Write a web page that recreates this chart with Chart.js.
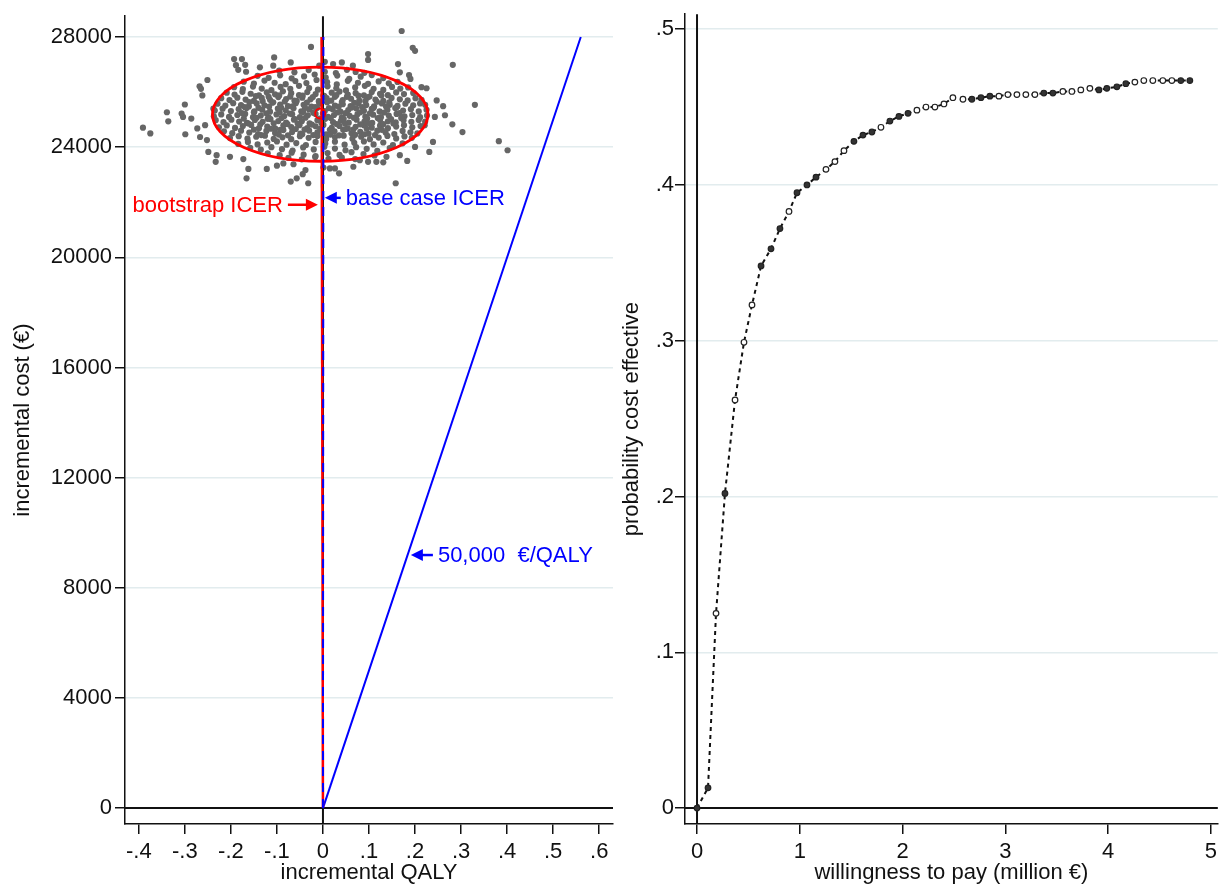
<!DOCTYPE html>
<html>
<head>
<meta charset="utf-8">
<script src="https://cdn.jsdelivr.net/npm/chart.js@4.4.1/dist/chart.umd.min.js"></script>
<style>
  html, body { margin: 0; padding: 0; background: #fff; }
  #plane { position: absolute; left: 0; top: 0; }
  #ceac { position: absolute; left: 620px; top: 0; }
</style>
</head>
<body>
<canvas id="plane" width="620" height="884"></canvas>
<canvas id="ceac" width="603" height="884"></canvas>
<script>
// ---- cost-effectiveness plane ----
const qalyTicks = [-0.4, -0.3, -0.2, -0.1, 0, 0.1, 0.2, 0.3, 0.4, 0.5, 0.6];
const qalyTickLabels = ['-.4', '-.3', '-.2', '-.1', '0', '.1', '.2', '.3', '.4', '.5', '.6'];
const costTicks = [0, 4000, 8000, 12000, 16000, 20000, 24000, 28000];

// bootstrap replicates [incremental QALY, incremental cost]
const bootCloud = [
  [-0.095,26780],[-0.062,26720],[-0.031,26800],[0.004,26740],[0.028,26690],[0.052,26810],[0.071,26730],[0.090,26700],
  [-0.142,26590],[-0.118,26520],[-0.093,26610],[-0.068,26500],[-0.041,26570],[-0.018,26640],[0.006,26530],[0.031,26600],[0.057,26480],[0.082,26560],[0.106,26620],[0.131,26510],
  [-0.172,26380],[-0.150,26310],[-0.127,26420],[-0.105,26340],[-0.081,26290],[-0.060,26400],[-0.036,26330],[-0.014,26440],[0.009,26360],[0.030,26280],[0.054,26410],[0.076,26340],[0.098,26300],[0.121,26390],[0.143,26320],[0.162,26370],
  [-0.193,26180],[-0.174,26110],[-0.152,26200],[-0.133,26130],[-0.112,26070],[-0.092,26190],[-0.071,26120],[-0.052,26230],[-0.030,26150],[-0.011,26090],[0.010,26210],[0.029,26140],[0.050,26060],[0.070,26170],[0.091,26230],[0.110,26120],[0.131,26080],[0.150,26190],[0.168,26130],[0.185,26170],
  [-0.209,25980],[-0.192,25910],[-0.175,26010],[-0.157,25940],[-0.139,25880],[-0.122,25990],[-0.104,25920],[-0.087,26030],[-0.069,25960],[-0.052,25890],[-0.034,26000],[-0.016,25930],[0.001,25870],[0.019,25980],[0.036,26020],[0.054,25910],[0.071,25960],[0.089,25880],[0.106,26000],[0.124,25940],[0.141,25890],[0.159,25990],[0.176,25930],[0.196,25970],
  [-0.221,25780],[-0.203,25710],[-0.186,25800],[-0.168,25730],[-0.150,25680],[-0.133,25790],[-0.115,25720],[-0.097,25820],[-0.080,25750],[-0.062,25690],[-0.045,25800],[-0.027,25740],[-0.009,25670],[0.008,25780],[0.026,25830],[0.043,25710],[0.061,25760],[0.079,25690],[0.096,25800],[0.114,25730],[0.131,25680],[0.149,25790],[0.167,25740],[0.184,25700],[0.201,25780],[0.214,25720],
  [-0.229,25580],[-0.212,25510],[-0.195,25600],[-0.178,25530],[-0.161,25480],[-0.144,25590],[-0.127,25520],[-0.110,25620],[-0.093,25550],[-0.076,25490],[-0.059,25600],[-0.042,25540],[-0.025,25470],[-0.008,25580],[0.009,25630],[0.026,25510],[0.043,25560],[0.060,25490],[0.077,25600],[0.094,25530],[0.111,25480],[0.128,25590],[0.145,25540],[0.162,25500],[0.179,25580],[0.196,25520],[0.211,25590],[0.222,25540],
  [-0.235,25330],[-0.218,25400],[-0.200,25310],[-0.183,25380],[-0.166,25420],[-0.149,25300],[-0.132,25360],[-0.115,25290],[-0.098,25400],[-0.081,25340],[-0.064,25410],[-0.047,25300],[-0.030,25370],[-0.013,25420],[0.004,25310],[0.021,25380],[0.038,25290],[0.055,25350],[0.072,25410],[0.089,25320],[0.106,25390],[0.123,25300],[0.140,25360],[0.157,25420],[0.174,25330],[0.191,25380],[0.208,25300],[0.225,25360],
  [-0.237,25120],[-0.221,25190],[-0.204,25100],[-0.186,25170],[-0.169,25210],[-0.152,25090],[-0.135,25150],[-0.118,25080],[-0.101,25190],[-0.084,25130],[-0.067,25200],[-0.050,25090],[-0.033,25160],[-0.016,25210],[0.011,25100],[0.024,25170],[0.041,25080],[0.058,25140],[0.075,25200],[0.092,25110],[0.109,25180],[0.126,25090],[0.143,25150],[0.160,25210],[0.177,25120],[0.194,25170],[0.211,25090],[0.226,25150],
  [-0.233,24980],[-0.216,24910],[-0.199,25000],[-0.182,24930],[-0.165,24880],[-0.148,24990],[-0.131,24920],[-0.114,25020],[-0.097,24950],[-0.080,24890],[-0.063,25000],[-0.046,24940],[-0.029,24870],[-0.012,24980],[0.005,25030],[0.022,24910],[0.039,24960],[0.056,24890],[0.073,25000],[0.090,24930],[0.107,24880],[0.124,24990],[0.141,24940],[0.158,24900],[0.175,24980],[0.192,24920],[0.208,24990],[0.222,24930],
  [-0.226,24720],[-0.209,24790],[-0.191,24700],[-0.174,24770],[-0.156,24810],[-0.139,24690],[-0.121,24750],[-0.104,24680],[-0.086,24790],[-0.069,24730],[-0.051,24800],[-0.034,24690],[-0.016,24760],[0.001,24810],[0.019,24700],[0.036,24770],[0.054,24680],[0.071,24740],[0.089,24800],[0.106,24710],[0.124,24780],[0.141,24690],[0.159,24750],[0.176,24800],[0.194,24720],[0.212,24770],
  [-0.215,24580],[-0.197,24510],[-0.178,24600],[-0.160,24530],[-0.141,24480],[-0.123,24590],[-0.104,24520],[-0.086,24620],[-0.067,24550],[-0.049,24490],[-0.030,24600],[-0.012,24540],[0.007,24470],[0.025,24580],[0.044,24630],[0.062,24510],[0.081,24560],[0.099,24490],[0.118,24600],[0.136,24530],[0.155,24480],[0.173,24590],[0.190,24540],[0.205,24500],
  [-0.202,24330],[-0.183,24400],[-0.164,24310],[-0.145,24380],[-0.126,24420],[-0.107,24300],[-0.088,24360],[-0.069,24290],[-0.050,24400],[-0.031,24340],[-0.012,24410],[0.007,24300],[0.026,24370],[0.045,24420],[0.064,24310],[0.083,24380],[0.102,24290],[0.121,24350],[0.140,24410],[0.159,24320],[0.177,24390],[0.193,24340],
  [-0.184,24120],[-0.163,24190],[-0.142,24100],[-0.121,24170],[-0.100,24210],[-0.079,24090],[-0.058,24150],[-0.037,24080],[-0.016,24190],[0.005,24130],[0.026,24200],[0.047,24090],[0.068,24160],[0.089,24210],[0.110,24100],[0.131,24170],[0.152,24080],[0.173,24140],
  [-0.158,23980],[-0.135,23910],[-0.112,24000],[-0.089,23930],[-0.066,23880],[-0.043,23990],[-0.020,23920],[0.003,24020],[0.026,23950],[0.049,23890],[0.072,24000],[0.095,23940],[0.118,23870],[0.145,23970],
  [-0.120,23780],[-0.094,23710],[-0.068,23800],[-0.042,23730],[-0.016,23680],[0.010,23790],[0.036,23720],[0.062,23820],[0.088,23750],[0.112,23700],
  [-0.075,23610],[-0.046,23560],[-0.017,23640],[0.012,23580],[0.041,23620],[0.070,23570],
  [-0.146,25860],[-0.118,25830],[-0.095,25880],[-0.071,25840],[-0.044,25870],[-0.022,25820],[0.003,25860],[0.029,25890],[0.052,25830],[0.077,25870],[0.101,25840],[0.127,25880],
  [-0.160,25640],[-0.131,25670],[-0.108,25630],[-0.083,25660],[-0.057,25680],[-0.035,25620],[-0.004,25650],[0.018,25690],[0.041,25640],[0.068,25610],[0.092,25670],[0.117,25650],[0.144,25630],
  [-0.170,25460],[-0.140,25430],[-0.117,25470],[-0.091,25440],[-0.066,25480],[-0.039,25430],[-0.017,25460],[0.013,25420],[0.034,25470],[0.062,25440],[0.085,25460],[0.110,25430],[0.137,25480],[0.160,25450],
  [-0.176,25240],[-0.150,25270],[-0.123,25230],[-0.094,25260],[-0.072,25220],[-0.043,25280],[-0.021,25250],[0.000,25220],[0.031,25260],[0.049,25240],[0.081,25270],[0.102,25230],[0.133,25260],[0.166,25240],
  [-0.172,25040],[-0.144,25070],[-0.120,25030],[-0.090,25060],[-0.061,25020],[-0.038,25070],[-0.007,25040],[0.017,25060],[0.045,25030],[0.067,25070],[0.096,25040],[0.119,25060],[0.148,25020],[0.170,25060],
  [-0.162,24860],[-0.136,24830],[-0.107,24870],[-0.077,24840],[-0.055,24860],[-0.024,24820],[-0.003,24870],[0.030,24840],[0.048,24860],[0.081,24830],[0.100,24870],[0.131,24840],[0.153,24860],
  [-0.150,24640],[-0.113,24670],[-0.093,24630],[-0.059,24660],[-0.040,24640],[-0.006,24670],[0.015,24630],[0.049,24660],[0.066,24640],[0.095,24670],[0.128,24630],
  [-0.134,24440],[-0.096,24460],[-0.076,24430],[-0.045,24470],[-0.021,24440],[0.016,24460],[0.035,24430],[0.070,24450],[0.090,24470],[0.113,24440]
];
const bootOutliers = [
  [0.171,28220],[0.195,27610],[0.200,27500],[0.282,26990],[-0.026,27640],[-0.106,27260],[-0.193,27200],[-0.176,27200],
  [-0.189,26980],[-0.169,26990],[-0.184,26810],[-0.167,26740],[-0.251,26440],[-0.268,26210],[-0.265,26120],[-0.262,25880],
  [-0.339,25270],[-0.336,24940],[-0.307,25220],[-0.304,25100],[-0.286,25040],[-0.391,24710],[-0.375,24500],[-0.299,24470],
  [-0.273,24680],[-0.267,24370],[-0.249,23830],[-0.231,23710],[-0.233,23470],[-0.202,23650],[-0.173,23570],[-0.162,23210],
  [-0.166,22870],[-0.122,23210],[-0.100,23330],[-0.086,23410],[-0.064,23380],[-0.070,22750],[-0.057,22870],[-0.044,23020],
  [-0.038,23170],[-0.032,22690],[0.001,23260],[0.015,23230],[0.026,23230],[0.035,23050],[0.066,23290],[0.080,23530],
  [0.098,23470],[0.116,23470],[0.131,23450],[0.138,23650],[0.158,22690],[0.167,23710],[0.183,23500],[0.200,24010],
  [0.231,23830],[0.239,24190],[0.281,24830],[0.303,24550],[0.330,25540],[0.382,24220],[0.401,23890],[0.247,25700],
  [0.261,25490],[0.265,25160],[0.243,25100],[0.221,24800],[0.163,27020],[0.167,26720],[0.187,26620],[0.190,26480],
  [0.214,26180],[0.225,26140],[0.065,26960],[0.041,27080],[0.098,27380],[0.098,27170],[-0.070,27080],[-0.108,26960],
  [-0.137,26900],[-0.008,26960],[0.004,27100],[0.022,27020],[-0.256,24800],[-0.238,25400],[-0.300,25550],[-0.252,24260]
];

const meanReplicate = [-0.006, 25220];
const ellipseCenter = [-0.006, 25200];
const ellipseHalfAxes = [0.234, 1710];
const bootIcerTop = [-0.003, 28000];
const baseIcerTop = [0.001, 28000];
const wtpLineTop = [0.56, 28000];

const noteLabels = ['bootstrap ICER', 'base case ICER', '50,000  \u20ac/QALY'];
const noteQaly = [-0.011, 0.004, 0.191];
const noteCost = [21910, 22160, 9190];

// ---- acceptability curve ----
const wtpTicks = [0, 1, 2, 3, 4, 5];
const probTicks = [0, 0.1, 0.2, 0.3, 0.4, 0.5];
const probTickLabels = ['0', '.1', '.2', '.3', '.4', '.5'];
const wtp = [0, 0.107, 0.185, 0.272, 0.370, 0.457, 0.535, 0.623, 0.720, 0.807, 0.895, 0.973, 1.070, 1.158,
  1.255, 1.342, 1.430, 1.527, 1.615, 1.702, 1.790, 1.877, 1.965, 2.053, 2.140, 2.228, 2.315, 2.403, 2.490,
  2.588, 2.675, 2.763, 2.850, 2.938, 3.025, 3.113, 3.200, 3.288, 3.375, 3.463, 3.560, 3.648, 3.735, 3.823,
  3.911, 3.988, 4.086, 4.173, 4.261, 4.348, 4.436, 4.533, 4.621, 4.708, 4.796];
const probCE = [0, 0.013, 0.125, 0.202, 0.262, 0.299, 0.323, 0.348, 0.359, 0.372, 0.383, 0.395, 0.400, 0.405,
  0.410, 0.415, 0.422, 0.428, 0.432, 0.434, 0.437, 0.441, 0.444, 0.446, 0.448, 0.450, 0.450, 0.452, 0.456,
  0.455, 0.455, 0.456, 0.457, 0.457, 0.458, 0.458, 0.458, 0.458, 0.459, 0.459, 0.460, 0.460, 0.461, 0.462,
  0.461, 0.462, 0.463, 0.465, 0.466, 0.467, 0.467, 0.467, 0.467, 0.467, 0.467];

// markers that render hollow in the original (0-based)
const hollowMarks = [2, 4, 5, 6, 10, 14, 15, 16, 20, 24, 25, 26, 27, 28, 29, 33, 34, 35, 36, 37, 40, 41, 42, 43, 48, 49, 50, 51, 52];

const INK = '#111';
const GRID = '#e2ecee';
Chart.defaults.font.family = "'Liberation Sans', Arial, sans-serif";
Chart.defaults.font.size = 22;
Chart.defaults.color = INK;

function pts(pairs) {
  return pairs.map((p) => ({ x: p[0], y: p[1] }));
}

function linearAxis(cfg) {
  return {
    type: 'linear',
    min: cfg.min,
    max: cfg.max,
    afterBuildTicks: (s) => { s.ticks = cfg.ticks.map((v) => ({ value: v })); },
    afterFit: cfg.fit,
    ticks: {
      autoSkip: false,
      maxRotation: 0,
      padding: cfg.pad,
      callback: (v, i) => cfg.labels[i],
    },
    grid: {
      drawOnChartArea: cfg.grid,
      color: GRID,
      lineWidth: 1.5,
      tickLength: 10,
      tickColor: INK,
      tickWidth: 1.5,
    },
    border: { display: true, color: INK, width: 1.5 },
    title: {
      display: true,
      text: cfg.title,
      color: INK,
      font: { size: 22, lineHeight: 1 },
      padding: cfg.titlePad,
    },
  };
}

function line(from, to, color, width, dash) {
  return {
    data: pts([from, to]),
    showLine: true,
    borderColor: color,
    borderWidth: width,
    borderDash: dash || [],
    pointRadius: 0,
  };
}

const noteStyle = [
  { color: '#ff0000', dir: 1, len: 30 },
  { color: '#0000ff', dir: -1, len: 16 },
  { color: '#0000ff', dir: -1, len: 22 },
];

const planeOverlay = {
  id: 'planeOverlay',
  afterDatasetDraw(chart, args) {
    // ellipse sits just above the cloud, under the ICER lines
    if (args.index !== chart.data.datasets.length - 1) return;
    const { ctx, chartArea } = chart;
    const xs = chart.scales.x, ys = chart.scales.y;
    const cx = xs.getPixelForValue(ellipseCenter[0]);
    const cy = ys.getPixelForValue(ellipseCenter[1]);
    const rx = xs.getPixelForValue(ellipseCenter[0] + ellipseHalfAxes[0]) - cx;
    const ry = cy - ys.getPixelForValue(ellipseCenter[1] + ellipseHalfAxes[1]);
    ctx.save();
    ctx.beginPath();
    ctx.rect(chartArea.left, chartArea.top, chartArea.width, chartArea.height);
    ctx.clip();
    ctx.beginPath();
    ctx.ellipse(cx, cy, rx, ry, 0, 0, Math.PI * 2);
    ctx.strokeStyle = '#ff0000';
    ctx.lineWidth = 2.8;
    ctx.stroke();
    ctx.restore();
  },
  afterDatasetsDraw(chart) {
    const { ctx } = chart;
    const xs = chart.scales.x, ys = chart.scales.y;
    ctx.save();
    ctx.font = "22px 'Liberation Sans', Arial, sans-serif";
    ctx.textBaseline = 'middle';
    noteLabels.forEach((label, i) => {
      const st = noteStyle[i];
      const tx = xs.getPixelForValue(noteQaly[i]);
      const ty = ys.getPixelForValue(noteCost[i]);
      ctx.strokeStyle = st.color;
      ctx.fillStyle = st.color;
      ctx.lineWidth = 2.5;
      ctx.beginPath();
      ctx.moveTo(tx - st.dir * st.len, ty);
      ctx.lineTo(tx - st.dir * 8, ty);
      ctx.stroke();
      ctx.beginPath();
      ctx.moveTo(tx, ty);
      ctx.lineTo(tx - st.dir * 12, ty - 6);
      ctx.lineTo(tx - st.dir * 12, ty + 6);
      ctx.closePath();
      ctx.fill();
      ctx.textAlign = st.dir > 0 ? 'right' : 'left';
      ctx.fillText(label, tx - st.dir * (st.len + 5), ty + 1);
    });
    ctx.restore();
  },
};

new Chart(document.getElementById('plane'), {
  type: 'scatter',
  data: {
    datasets: [
      line([0, 0], baseIcerTop, '#0000ff', 2, [9, 7]),
      line([0, 0], bootIcerTop, '#ff0000', 2.5),
      line([0, 0], wtpLineTop, '#0000ff', 2),
      {
        data: pts([meanReplicate]),
        pointRadius: 5,
        pointBorderWidth: 2,
        pointBorderColor: '#ff0000',
        pointBackgroundColor: 'rgba(0,0,0,0)',
      },
      line([0, -2000], [0, 31000], INK, 2),
      line([-1, 0], [1, 0], INK, 2),
      {
        data: pts(bootCloud.concat(bootOutliers)),
        pointRadius: 3.1,
        pointBorderWidth: 0,
        pointBackgroundColor: '#666666',
      },
    ],
  },
  options: {
    responsive: false,
    animation: false,
    layout: { padding: { top: 10, right: 7, left: 0, bottom: 0 } },
    plugins: { legend: { display: false }, tooltip: { enabled: false } },
    scales: {
      x: linearAxis({
        min: -0.43, max: 0.63, ticks: qalyTicks, labels: qalyTickLabels, grid: false, pad: 5,
        title: 'incremental QALY', titlePad: { top: 0, bottom: 0 },
        fit: (s) => { s.height = 60; },
      }),
      y: linearAxis({
        min: -577, max: 28757, ticks: costTicks, labels: costTicks.map(String), grid: true, pad: 3,
        title: 'incremental cost (\u20ac)', titlePad: { top: 12, bottom: 0 },
        fit: (s) => { s.width = 125; },
      }),
    },
  },
  plugins: [planeOverlay],
});

new Chart(document.getElementById('ceac'), {
  type: 'scatter',
  data: {
    datasets: [
      {
        data: wtp.map((v, i) => ({ x: v, y: probCE[i] })),
        showLine: true,
        borderColor: INK,
        borderWidth: 2,
        borderDash: [4, 4],
        pointRadius: 2.8,
        pointBorderWidth: 1.2,
        pointBorderColor: '#222',
        pointBackgroundColor: wtp.map((v, i) => (hollowMarks.includes(i) ? '#fff' : '#333')),
      },
      line([0, -1], [0, 1], INK, 2),
      line([-1, 0], [6, 0], INK, 2),
    ],
  },
  options: {
    responsive: false,
    animation: false,
    layout: { padding: { top: 10, right: 5, left: 0, bottom: 0 } },
    plugins: { legend: { display: false }, tooltip: { enabled: false } },
    scales: {
      x: linearAxis({
        min: -0.117, max: 5.068, ticks: wtpTicks, labels: wtpTicks.map(String), grid: false, pad: 5,
        title: 'willingness to pay (million \u20ac)', titlePad: { top: 0, bottom: 0 },
        fit: (s) => { s.height = 60; },
      }),
      y: linearAxis({
        min: -0.0102, max: 0.5096, ticks: probTicks, labels: probTickLabels, grid: true, pad: 1,
        title: 'probability cost effective', titlePad: { top: 1, bottom: 0 },
        fit: (s) => { s.width = 65; },
      }),
    },
  },
});
</script>
</body>
</html>
